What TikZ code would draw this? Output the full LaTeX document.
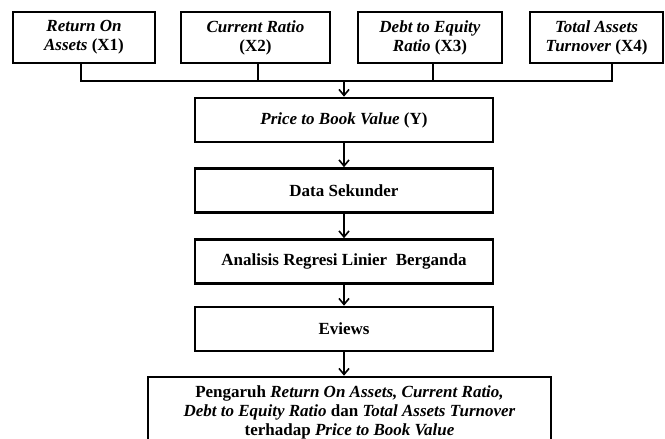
\documentclass[tikz,border=0pt]{standalone}
\usepackage{fontspec}
\setmainfont{Liberation Serif}
\usetikzlibrary{arrows.meta}
\begin{document}
\begin{tikzpicture}[x=1pt,y=-1pt,
  box/.style={draw, line width=2.6pt, inner sep=0pt, align=center,
    font=\fontsize{17}{19}\selectfont\bfseries},
  topbox/.style={box, minimum height=51pt},
  midbox/.style={box, minimum width=298pt, minimum height=44pt},
  conn/.style={line width=1.7pt},
  arr/.style={conn, -{Straight Barb[length=6pt,width=10pt,line width=1.6pt]}}]
\useasboundingbox (0,0) rectangle (665,439);
\clip (0,0) rectangle (665,439);
\fill[white] (0,0) rectangle (665,439);
% top boxes
\node[topbox, minimum width=142pt] (b1) at (84,37.5) {\textit{Return On}\\\textit{Assets} (X1)};
\node[topbox, minimum width=149pt] (b2) at (255.5,37.5) {\textit{Current Ratio}\\(X2)};
\node[topbox, minimum width=144pt] (b3) at (430,37.5) {\textit{Debt to Equity}\\\textit{Ratio} (X3)};
\node[topbox, minimum width=133pt] (b4) at (596.5,37.5) {\textit{Total Assets}\\\textit{Turnover} (X4)};
% middle flow
\node[midbox] (p) at (344,120) {\textit{Price to Book Value} (Y)};
\node[midbox] (d) at (344,190.5) {Data Sekunder};
\node[midbox] (a) at (344,261.5) {Analisis Regresi Linier\ \ Berganda};
\node[midbox] (e) at (344,329) {Eviews};
\node[box, minimum width=403pt, minimum height=70pt] (f) at (349.5,412)
  {Pengaruh \textit{Return On Assets, Current Ratio,}\\
   \textit{Debt to Equity Ratio} dan \textit{Total Assets Turnover}\\
   terhadap \textit{Price to Book Value}};
% extend final box sides below the picture edge
\draw[line width=2.6pt] (f.south west) -- ++(0,20);
\draw[line width=2.6pt] (f.south east) -- ++(0,20);
% bus
\coordinate (j) at (344,80);
\draw[conn] ([xshift=-3pt]b1.south) -- ++(0,17) -| ([xshift=15.5pt]b4.south);
\draw[conn] ([xshift=2.5pt]b2.south) -- ++(0,17);
\draw[conn] ([xshift=3pt]b3.south) -- ++(0,17);
\draw[arr] (j) -- (p.north);
\draw[arr] (p) -- (d);
\draw[arr] (d) -- (a);
\draw[arr] (a) -- (e);
\draw[arr] (e.south) -- (e.south |- f.north);
\end{tikzpicture}
\end{document}
